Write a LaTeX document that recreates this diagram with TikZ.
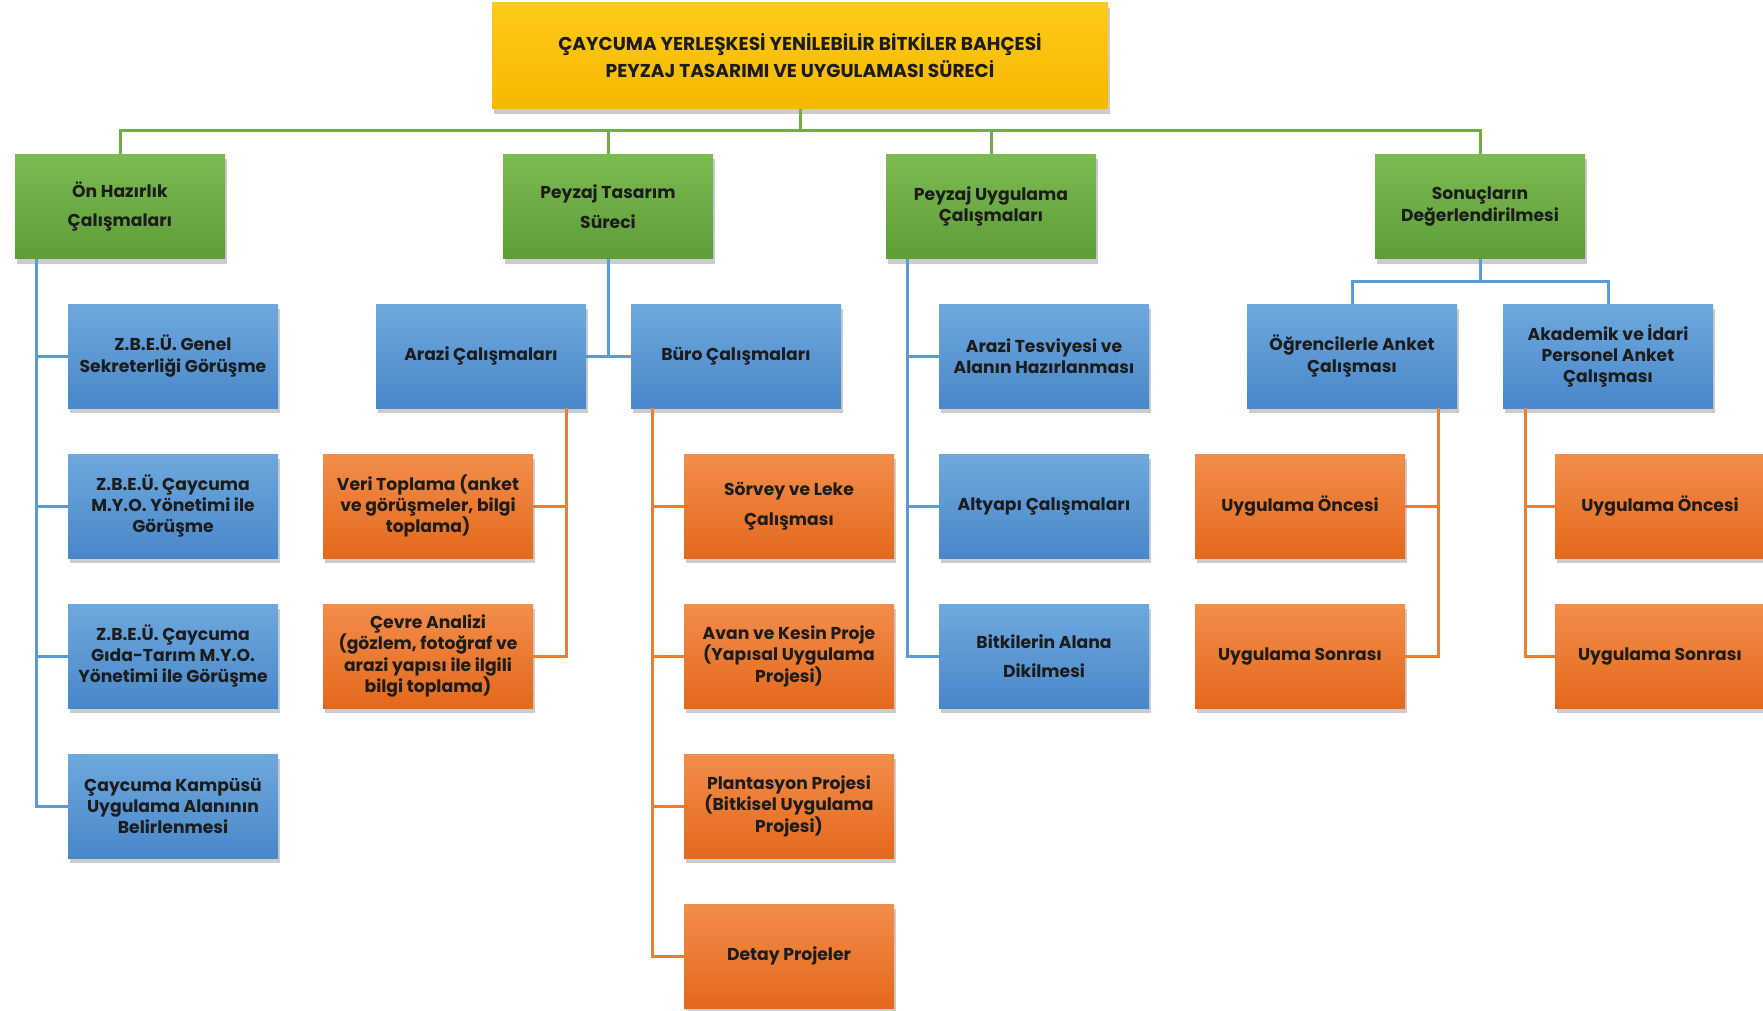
\documentclass[tikz,border=0pt]{standalone}
\usepackage{fontspec}
\setmainfont{Poppins}
\usetikzlibrary{shadows}
\definecolor{jet}{HTML}{1C1C1C}
\definecolor{gold-top}{HTML}{FFCA1A}
\definecolor{gold-bot}{HTML}{F4B800}
\definecolor{leaf-top}{HTML}{7CBA52}
\definecolor{leaf-bot}{HTML}{5E9E36}
\definecolor{sky-top}{HTML}{6EA8DD}
\definecolor{sky-bot}{HTML}{4887C9}
\definecolor{rust-top}{HTML}{F28D4A}
\definecolor{rust-bot}{HTML}{E3691C}
\definecolor{leaf-line}{HTML}{70AD47}
\definecolor{sky-line}{HTML}{5B9BD5}
\definecolor{rust-line}{HTML}{ED7D31}

\begin{document}
\begin{tikzpicture}[x=0.5pt, y=-0.5pt,
  every node/.style={font=\bfseries\fontsize{8.6}{10.7}\selectfont, text=jet, align=center},
  box/.style={minimum width=105pt, minimum height=52pt, inner sep=2pt,
    drop shadow={shadow xshift=1pt, shadow yshift=-2.5pt, opacity=0.4}},
  titlebox/.style={box, minimum width=308pt, minimum height=53pt, top color=gold-top, bottom color=gold-bot,
    font=\bfseries\fontsize{9.3}{13.5}\selectfont},
  greenbox/.style={box, top color=leaf-top, bottom color=leaf-bot},
  bluebox/.style={box, top color=sky-top, bottom color=sky-bot},
  orangebox/.style={box, top color=rust-top, bottom color=rust-bot},
  gline/.style={draw=leaf-line, line width=1.5pt},
  bline/.style={draw=sky-line, line width=1.5pt},
  oline/.style={draw=rust-line, line width=1.5pt}]
  \useasboundingbox (0,0) rectangle (1763,1011);
  \fill[white] (0,0) rectangle (1763,1011);

  \node[titlebox] (title) at (800,56) {ÇAYCUMA YERLEŞKESİ YENİLEBİLİR BİTKİLER BAHÇESİ\\PEYZAJ TASARIMI VE UYGULAMASI SÜRECİ};

  \node[greenbox] (on) at (120,206.5) {Ön Hazırlık\\[4pt]Çalışmaları};
  \node[greenbox] (tasarim) at (608,206.5) {Peyzaj Tasarım\\[4pt]Süreci};
  \node[greenbox] (uygulama) at (991,206.5) {Peyzaj Uygulama\\Çalışmaları};
  \node[greenbox] (sonuc) at (1480,206.5) {Sonuçların\\Değerlendirilmesi};

  \node[bluebox] (zbeu1) at (173,356) {Z.B.E.Ü. Genel\\Sekreterliği Görüşme};
  \node[bluebox] (zbeu2) at (173,506) {Z.B.E.Ü. Çaycuma\\M.Y.O. Yönetimi ile\\Görüşme};
  \node[bluebox] (zbeu3) at (173,656) {Z.B.E.Ü. Çaycuma\\Gıda-Tarım M.Y.O.\\Yönetimi ile Görüşme};
  \node[bluebox] (kampus) at (173,806) {Çaycuma Kampüsü\\Uygulama Alanının\\Belirlenmesi};
  \node[bluebox] (arazi) at (481,356) {Arazi Çalışmaları};
  \node[bluebox] (buro) at (736,356) {Büro Çalışmaları};
  \node[bluebox] (tesviye) at (1044,356) {Arazi Tesviyesi ve\\Alanın Hazırlanması};
  \node[bluebox] (altyapi) at (1044,506) {Altyapı Çalışmaları};
  \node[bluebox] (dikim) at (1044,656) {Bitkilerin Alana\\[4pt]Dikilmesi};
  \node[bluebox] (ogrenci) at (1352,356) {Öğrencilerle Anket\\Çalışması};
  \node[bluebox] (personel) at (1608,356) {Akademik ve İdari\\Personel Anket\\Çalışması};

  \node[orangebox] (veri) at (428,506) {Veri Toplama (anket\\ve görüşmeler, bilgi\\toplama)};
  \node[orangebox] (cevre) at (428,656) {Çevre Analizi\\(gözlem, fotoğraf ve\\arazi yapısı ile ilgili\\bilgi toplama)};
  \node[orangebox] (sorvey) at (789,506) {Sörvey ve Leke\\[4pt]Çalışması};
  \node[orangebox] (avan) at (789,656) {Avan ve Kesin Proje\\(Yapısal Uygulama\\Projesi)};
  \node[orangebox] (plantasyon) at (789,806) {Plantasyon Projesi\\(Bitkisel Uygulama\\Projesi)};
  \node[orangebox] (detay) at (789,956) {Detay Projeler};
  \node[orangebox] (ogronce) at (1300,506) {Uygulama Öncesi};
  \node[orangebox] (ogrsonra) at (1300,656) {Uygulama Sonrası};
  \node[orangebox] (peronce) at (1660,506) {Uygulama Öncesi};
  \node[orangebox] (personra) at (1660,656) {Uygulama Sonrası};

  \coordinate (gbar) at (800,131);
  \draw[gline] (title.south) -- (gbar);
  \draw[gline] (on.north) |- (gbar) -| (sonuc.north);
  \draw[gline] (tasarim.north) -- (tasarim.north |- gbar);
  \draw[gline] (uygulama.north) -- (uygulama.north |- gbar);

  \coordinate (onleg) at (36,259);
  \foreach \n in {zbeu1,zbeu2,zbeu3,kampus}
    \draw[bline] (onleg) |- (\n.west);
  \draw[bline] (tasarim.south) -- (tasarim.south |- arazi.east);
  \draw[bline] (arazi.east) -- (buro.west);
  \coordinate (uygleg) at (907,259);
  \foreach \n in {tesviye,altyapi,dikim}
    \draw[bline] (uygleg) |- (\n.west);
  \coordinate (sbar) at (1480,281);
  \draw[bline] (sonuc.south) -- (sbar);
  \draw[bline] (ogrenci.north) |- (sbar) -| (personel.north);

  \coordinate (arazileg) at (566,408);
  \foreach \n in {veri,cevre}
    \draw[oline] (arazileg) |- (\n.east);
  \coordinate (buroleg) at (652,408);
  \foreach \n in {sorvey,avan,plantasyon,detay}
    \draw[oline] (buroleg) |- (\n.west);
  \coordinate (ogrleg) at (1438,408);
  \foreach \n in {ogronce,ogrsonra}
    \draw[oline] (ogrleg) |- (\n.east);
  \coordinate (perleg) at (1525,408);
  \foreach \n in {peronce,personra}
    \draw[oline] (perleg) |- (\n.west);
\end{tikzpicture}
\end{document}
